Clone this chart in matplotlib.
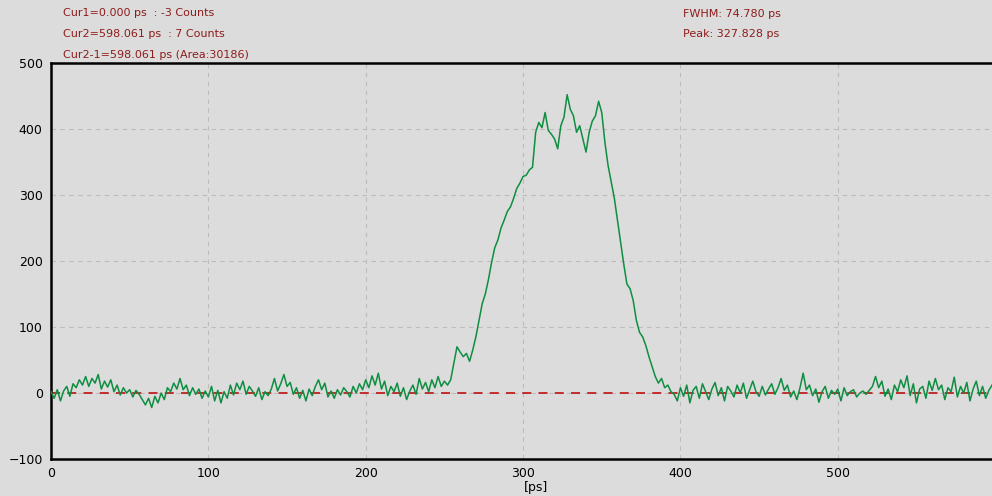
import numpy as np
import matplotlib.pyplot as plt

# histogram counts, one bin every 2 ps (0 .. 598 ps)
counts = [
    2, -8, 5, -12, 3, 10, -5, 14, 8, 20,
    12, 25, 10, 22, 15, 28, 6, 18, 9, 20,
    2, 12, -3, 8, 0, 5, -6, 4, -2, -10,
    -18, -8, -22, -5, -15, 0, -10, 8, 2, 15,
    6, 22, 5, 12, -4, 8, -2, 6, -8, 3,
    -6, 10, -12, 4, -15, 2, -8, 12, -3, 15,
    5, 18, -2, 10, 3, -5, 8, -10, 2, -4,
    6, 22, 3, 14, 28, 10, 16, -2, 8, -8,
    4, -12, 6, -4, 10, 20, 5, 15, -6, 3,
    -8, 5, -3, 8, 2, -6, 10, 0, 14, 5,
    20, 8, 26, 12, 30, 6, 18, -4, 10, 2,
    15, -5, 8, -10, 3, 12, -2, 22, 6, 16,
    2, 20, 8, 25, 10, 18, 12,
    20, 45, 70, 62, 55, 60, 48, 65, 85, 110,
    135, 150, 172, 198, 220, 232, 250, 262, 275, 282,
    295, 310, 318, 328, 330, 338, 342, 395, 410, 402,
    425, 398, 392, 385, 370, 405, 418, 452, 430, 420,
    395, 405, 385, 365, 395, 412, 420, 442, 425, 380,
    345, 320, 295, 262, 230, 195, 165, 158, 140, 110,
    92, 85, 72, 55, 40, 25, 15, 22, 8, 12,
    2, -2, -12, 8,
    -5, 12, -15, 4, 10, -8, 14, 2, -10, 6,
    16, -4, 8, -12, 10, 3, -6, 12, 0, 15,
    -8, 5, 18, 2, -5, 10, -3, 6, 14, -2,
    8, 22, 4, 12, -6, 3, -10, 8, 30, 5,
    12, -4, 6, -14, 2, 10, -8, 4, -2, 6,
    -12, 8, -4, 2, 5, -6, 0, 3, -2, 4,
    10, 25, 8, 18, -5, 6, -10, 12, 2, 20,
    8, 26, -4, 14, -15, 6, 10, -8, 18, 4,
    22, 5, 12, -10, 8, 2, 24, -6, 10, 0,
    16, -12, 6, 18, -4, 10, -8, 4, 12,
]
bin_ps = 2
times = bin_ps * np.arange(len(counts))

xticks = [0, 100, 200, 300, 400, 500]
yticks = [-100, 0, 100, 200, 300, 400, 500]

cursor_lines = ['Cur1=0.000 ps  : -3 Counts',
                'Cur2=598.061 ps  : 7 Counts',
                'Cur2-1=598.061 ps (Area:30186)']
fit_lines = ['FWHM: 74.780 ps', 'Peak: 327.828 ps']

bg = '#dcdcdc'
txt_red = '#8e1c1c'

fig = plt.figure(figsize=(9.92, 4.96), dpi=100, facecolor=bg)
ax = fig.add_axes([51/992, 37/496, 1 - 51/992, 396/496])
ax.set_facecolor(bg)

ax.axhline(0, color='#c02020', ls=(0, (5, 4)), lw=1.3, zorder=2)
ax.plot(times, counts, color='#0e8e40', lw=1.1, zorder=3)

ax.set_xlim(0, 598)
ax.set_ylim(-100, 500)
ax.set_xticks(xticks)
ax.set_yticks(yticks)
ax.grid(True, color='#bcbcbc', ls=(0, (4, 4)), lw=0.8)
ax.tick_params(length=0, labelsize=9, pad=6)

for s in ['left', 'top', 'bottom']:
    ax.spines[s].set_linewidth(1.8)
    ax.spines[s].set_color('black')
ax.spines['right'].set_visible(False)

# unit label sits just under the 300 tick, as in the instrument software
fig.text(536/992, 8/496, '[ps]', fontsize=9, ha='center', va='center')

for i, t in enumerate(cursor_lines):
    fig.text(63/992, 1 - (13 + 21*i)/496, t, color=txt_red, fontsize=8,
             va='center', ha='left')
for i, t in enumerate(fit_lines):
    fig.text(683/992, 1 - (14 + 20*i)/496, t, color=txt_red, fontsize=8,
             va='center', ha='left')

plt.savefig('out.png', dpi=100, facecolor=bg)
